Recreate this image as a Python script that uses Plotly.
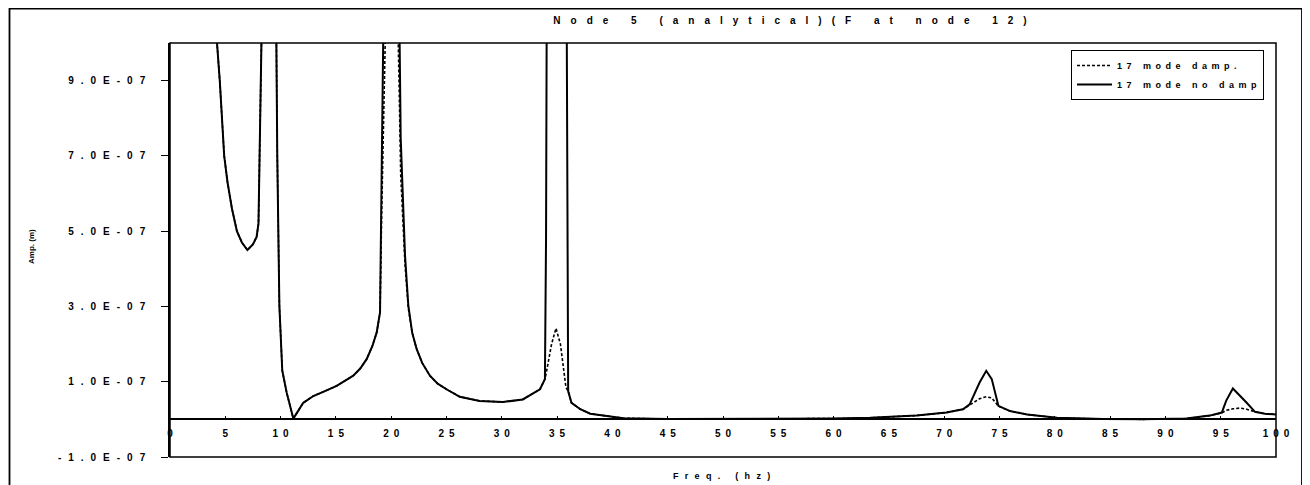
import plotly.graph_objects as go
import numpy as np

# ---- data (amplitudes in units of 1e-7 m) ----
freq_hz = [4.2, 4.5, 4.9, 5.2, 5.6, 6.05, 6.5, 7.0, 7.5, 7.83, 8.0, 8.1, 8.2, 8.3,
           9.6, 9.7, 9.89, 10.15, 10.55, 11.15, 12.05, 12.96, 14.0, 15.07, 16.57,
           17.2, 17.78, 18.3, 18.69, 18.99, 19.14, 19.3, 19.5, 20.1, 20.6, 20.74,
           20.86, 21.25, 21.55, 21.9, 22.3, 22.8, 23.5, 24.2, 25.0, 26.2, 28.0, 30.1,
           31.9, 33.45, 33.9, 34.0, 34.06, 34.5, 34.9, 35.3, 35.8, 35.87, 35.93, 36.0,
           36.3, 37.1, 38.0, 39.5, 41.0, 45.0, 50.0, 55.0, 60.0, 63.3, 67.5, 70.2,
           71.7, 72.3, 73.2, 73.8, 74.3, 74.9, 75.95, 77.5, 80.2, 84.4, 88.0, 91.9,
           94.0, 95.1, 95.5, 96.1, 96.7, 97.35, 98.1, 99.0, 100.0]

amp_no_damp = [10.2, 9.0, 7.0, 6.3, 5.6, 5.0, 4.7, 4.5, 4.65, 4.85, 5.2, 7.0, 9.0, 10.6,
               10.6, 7.0, 3.02, 1.3, 0.71, 0.02, 0.44, 0.62, 0.75, 0.89, 1.16,
               1.35, 1.6, 1.95, 2.31, 2.84, 6.6, 10.6, 11.0, 11.0, 11.0, 10.6,
               7.47, 4.35, 3.02, 2.3, 1.87, 1.5, 1.16, 0.95, 0.8, 0.6, 0.49, 0.46,
               0.53, 0.8, 1.07, 4.8, 10.6, 11.0, 11.0, 11.0, 11.0, 10.6, 3.9, 0.75,
               0.44, 0.27, 0.15, 0.08, 0.03, 0.01, 0.01, 0.01, 0.02, 0.04, 0.1, 0.18,
               0.27, 0.4, 0.98, 1.29, 1.07, 0.36, 0.22, 0.13, 0.04, 0.01, 0.0, 0.02,
               0.1, 0.18, 0.5, 0.82, 0.65, 0.44, 0.2, 0.15, 0.13]

amp_damp = [10.2, 9.0, 7.0, 6.3, 5.6, 5.0, 4.7, 4.5, 4.65, 4.85, 5.2, 7.0, 9.0, 10.6,
            10.6, 7.0, 3.02, 1.3, 0.71, 0.02, 0.44, 0.62, 0.75, 0.89, 1.16,
            1.35, 1.6, 1.95, 2.31, 2.84, 5.5, 8.0, 10.6, 11.0, 10.6, 8.5,
            6.5, 4.1, 2.95, 2.3, 1.87, 1.5, 1.16, 0.95, 0.8, 0.6, 0.49, 0.46,
            0.53, 0.8, 1.07, 1.2, 1.3, 2.0, 2.42, 2.0, 0.85, 0.82, 0.78, 0.75,
            0.44, 0.27, 0.15, 0.08, 0.03, 0.01, 0.01, 0.01, 0.02, 0.04, 0.1, 0.18,
            0.27, 0.38, 0.55, 0.6, 0.57, 0.35, 0.22, 0.13, 0.04, 0.01, 0.0, 0.02,
            0.1, 0.17, 0.24, 0.28, 0.3, 0.27, 0.2, 0.15, 0.13]

series_names = ["17 mode damp.", "17 mode no damp"]

x_tick_vals = list(range(0, 101, 5))
x_tick_labels = [str(v) for v in x_tick_vals]
y_tick_vals = [9e-7, 7e-7, 5e-7, 3e-7, 1e-7, -1e-7]
y_tick_labels = ["9.0E-07", "7.0E-07", "5.0E-07", "3.0E-07", "1.0E-07", "-1.0E-07"]

title_text = "Node 5 (analytical)(F at node 12)"
x_title = "Freq. (hz)"
y_title = "Amp. (m)"


def spaced(s, sep):
    return sep.join(list(s))


FONT = "Liberation Sans, Arial, sans-serif"
scale = 1e-7

# page layout (the page body has an 8 px margin)
W, H = 1302, 477
PL, PR, PT, PB = 170, 1276, 43, 457      # plot area in page pixels
PW, PH = PR - PL, PB - PT


def px_x(p):
    return (p - PL) / PW


def px_y(p):
    return (PB - p) / PH


fig = go.Figure()
fig.add_trace(go.Scatter(
    x=freq_hz, y=np.array(amp_damp) * scale, mode="lines",
    name=spaced(series_names[0], "\u2002"),
    line=dict(color="black", width=1.6, dash="3px,2px"),
))
fig.add_trace(go.Scatter(
    x=freq_hz, y=np.array(amp_no_damp) * scale, mode="lines",
    name=spaced(series_names[1], "\u2002"),
    line=dict(color="black", width=2),
))

fig.update_layout(
    width=W, height=H, autosize=False,
    margin=dict(l=PL - 8, r=(W + 8) - PR, t=PT - 8, b=(H + 8) - PB),
    paper_bgcolor="white", plot_bgcolor="white",
    font=dict(family=FONT, color="black", size=9, weight="bold"),
    title=dict(text=spaced(title_text, "\u2003"), x=px_x(790), xref="paper",
               xanchor="center", y=1 - (20 - 8) / H, yanchor="middle",
               font=dict(family=FONT, size=10, color="black", weight="bold")),
    legend=dict(x=px_x(1264), y=px_y(50), xanchor="right", yanchor="top",
                bordercolor="black", borderwidth=1, bgcolor="white",
                font=dict(family=FONT, size=9, color="black", weight="bold"),
                tracegroupgap=0, itemwidth=35),
    showlegend=True,
)

fig.update_xaxes(
    range=[0, 100], anchor="free", position=0.1 / 1.1,
    showline=True, linecolor="black", linewidth=1.5,
    ticks="inside", ticklen=3, tickwidth=1, tickcolor="black",
    tickvals=x_tick_vals, ticktext=[spaced(t, "\u2002") for t in x_tick_labels],
    tickfont=dict(family=FONT, size=10, color="black", weight="bold"),
    ticklabelstandoff=5,
    showgrid=False, zeroline=False,
)
fig.update_yaxes(
    range=[-1e-7, 1e-6],
    showline=True, linecolor="black", linewidth=1.5,
    ticks="outside", ticklen=7, tickwidth=1, tickcolor="black",
    tickvals=y_tick_vals, ticktext=[spaced(t, "\u2002\u2009") for t in y_tick_labels],
    tickfont=dict(family=FONT, size=10, color="black", weight="bold"),
    ticklabelstandoff=14,
    showgrid=False, zeroline=False,
)

# plot frame and outer page border
fig.add_shape(type="rect", xref="paper", yref="paper", x0=0, x1=1, y0=0, y1=1,
              line=dict(color="black", width=1.5), layer="above")
fig.add_shape(type="rect", xref="paper", yref="paper",
              x0=px_x(9.5), x1=px_x(1302), y0=px_y(520), y1=px_y(8.5),
              line=dict(color="black", width=1.8), layer="above")

# axis titles
fig.add_annotation(text=spaced(x_title, "\u2002\u2009"), xref="paper", yref="paper",
                   x=px_x(721), y=px_y(476), showarrow=False,
                   xanchor="center", yanchor="middle",
                   font=dict(family=FONT, size=9, color="black", weight="bold"))
fig.add_annotation(text=y_title, xref="paper", yref="paper",
                   x=px_x(31), y=px_y(247), showarrow=False,
                   textangle=-90, xanchor="center", yanchor="middle",
                   font=dict(family=FONT, size=8, color="black", weight="bold"))

fig.write_html("out.html")
